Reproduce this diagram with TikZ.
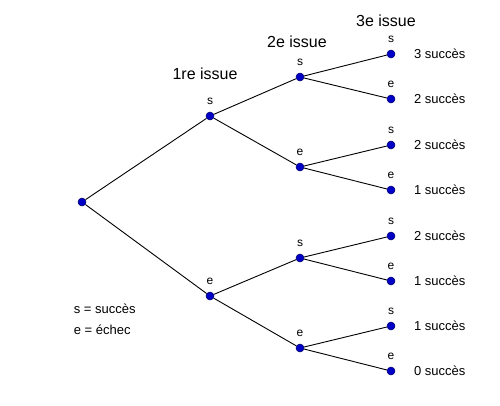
\documentclass[tikz,border=0pt]{standalone}
\usepackage{fontspec}
\setmainfont{Liberation Sans}
\usetikzlibrary{positioning}

\begin{document}
\begin{tikzpicture}[x=1pt, y=-1pt, line width=0.9pt, label distance=4.5pt,
pt/.style = {circle, draw=blue!40!black, fill=blue!78!black, line width=0.5pt, inner sep=0pt, minimum size=8pt},
every label/.append style = {font=\fontsize{12}{14}\selectfont, inner sep=2pt},
res/.style = {font=\fontsize{13}{15}\selectfont},
head/.style = {font=\fontsize{16}{18}\selectfont}]
\useasboundingbox (0,0) rectangle (500,405);
% arbre
\node[pt] (r) at (82,202) {};
\node[pt, label=above:s] (s) at (210,116) {};
\node[pt, label=above:e] (e) at (210,296) {};
\node[pt, label=above:s] (ss) at (300,77) {};
\node[pt, label=above:e] (se) at (300,167) {};
\node[pt, label=above:s] (es) at (300,258) {};
\node[pt, label=above:e] (ee) at (300,348) {};
\node[pt, label=above:s] (sss) at (391,54) {};
\node[pt, label=above:e] (sse) at (391,99) {};
\node[pt, label=above:s] (ses) at (391,145) {};
\node[pt, label=above:e] (see) at (391,190) {};
\node[pt, label=above:s] (ess) at (391,236) {};
\node[pt, label=above:e] (ese) at (391,281) {};
\node[pt, label=above:s] (ees) at (391,326) {};
\node[pt, label=above:e] (eee) at (391,371) {};

\path
(r) edge (s)
(r) edge (e)
(s) edge (ss)
(s) edge (se)
(e) edge (es)
(e) edge (ee)
(ss) edge (sss)
(ss) edge (sse)
(se) edge (ses)
(se) edge (see)
(es) edge (ess)
(es) edge (ese)
(ee) edge (ees)
(ee) edge (eee)
;

% issues
\node[res, right=15pt of sss] (n3) {3 succès};
\node[res, right=15pt of sse] (n2a) {2 succès};
\node[res, right=15pt of ses] (n2b) {2 succès};
\node[res, right=15pt of see] (n1a) {1 succès};
\node[res, right=15pt of ess] (n2c) {2 succès};
\node[res, right=15pt of ese] (n1b) {1 succès};
\node[res, right=15pt of ees] (n1c) {1 succès};
\node[res, right=15pt of eee] (n0) {0 succès};

% titres
\node[head] (h1) at (205,74) {1re issue};
\node[head] (h2) at (297,42) {2e issue};
\node[head] (h3) at (386,21) {3e issue};

% legende
\node[res, anchor=west] (l1) at (70,309) {s = succès};
\node[res, anchor=west] (l2) at (70,330) {e = échec};
\end{tikzpicture}
\end{document}
